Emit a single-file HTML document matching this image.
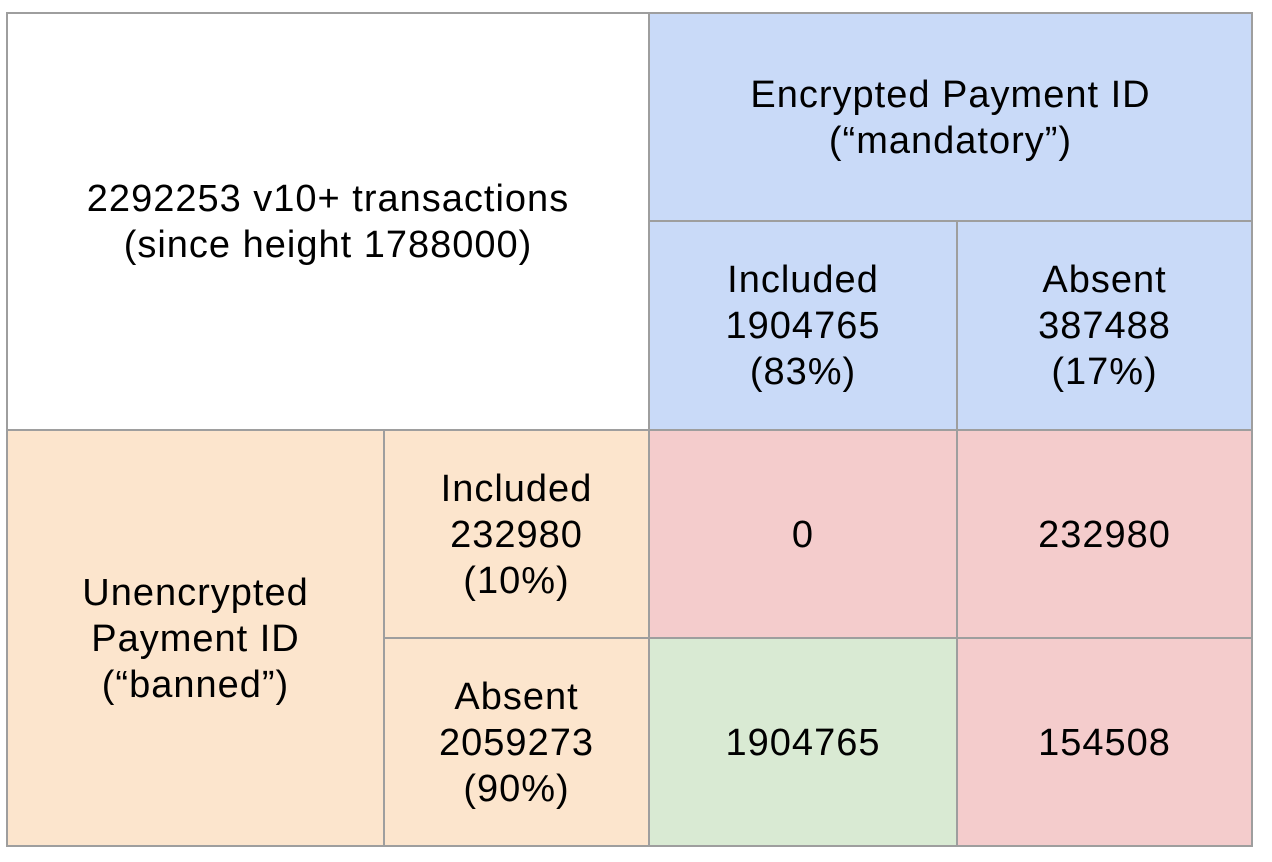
<!DOCTYPE html>
<html><head><style>
body{margin:0;width:1272px;height:862px;background:#fff;position:relative;font-family:"Liberation Sans",Arial,sans-serif;overflow:hidden}
.c{position:absolute;display:flex;align-items:center;justify-content:center;text-align:center;font-size:38px;letter-spacing:1px;line-height:46px;padding-top:1px;color:#000;box-sizing:border-box;border:2px solid #9e9e9e;margin:-1px 0 0 -1px}
</style></head><body>
<div class="c" style="left:7px;top:13px;width:644px;height:419px;background:#fff">2292253 v10+ transactions<br>(since height 1788000)</div>
<div class="c" style="left:649px;top:13px;width:605px;height:210px;background:#c9daf8">Encrypted Payment ID<br>(“mandatory”)</div>
<div class="c" style="left:649px;top:221px;width:310px;height:211px;background:#c9daf8">Included<br>1904765<br>(83%)</div>
<div class="c" style="left:957px;top:221px;width:297px;height:211px;background:#c9daf8">Absent<br>387488<br>(17%)</div>
<div class="c" style="left:7px;top:430px;width:379px;height:418px;background:#fce5cd">Unencrypted<br>Payment ID<br>(“banned”)</div>
<div class="c" style="left:384px;top:430px;width:267px;height:210px;background:#fce5cd">Included<br>232980<br>(10%)</div>
<div class="c" style="left:384px;top:638px;width:267px;height:210px;background:#fce5cd">Absent<br>2059273<br>(90%)</div>
<div class="c" style="left:649px;top:430px;width:310px;height:210px;background:#f4cccc">0</div>
<div class="c" style="left:957px;top:430px;width:297px;height:210px;background:#f4cccc">232980</div>
<div class="c" style="left:649px;top:638px;width:310px;height:210px;background:#d9ead3">1904765</div>
<div class="c" style="left:957px;top:638px;width:297px;height:210px;background:#f4cccc">154508</div>
</body></html>
